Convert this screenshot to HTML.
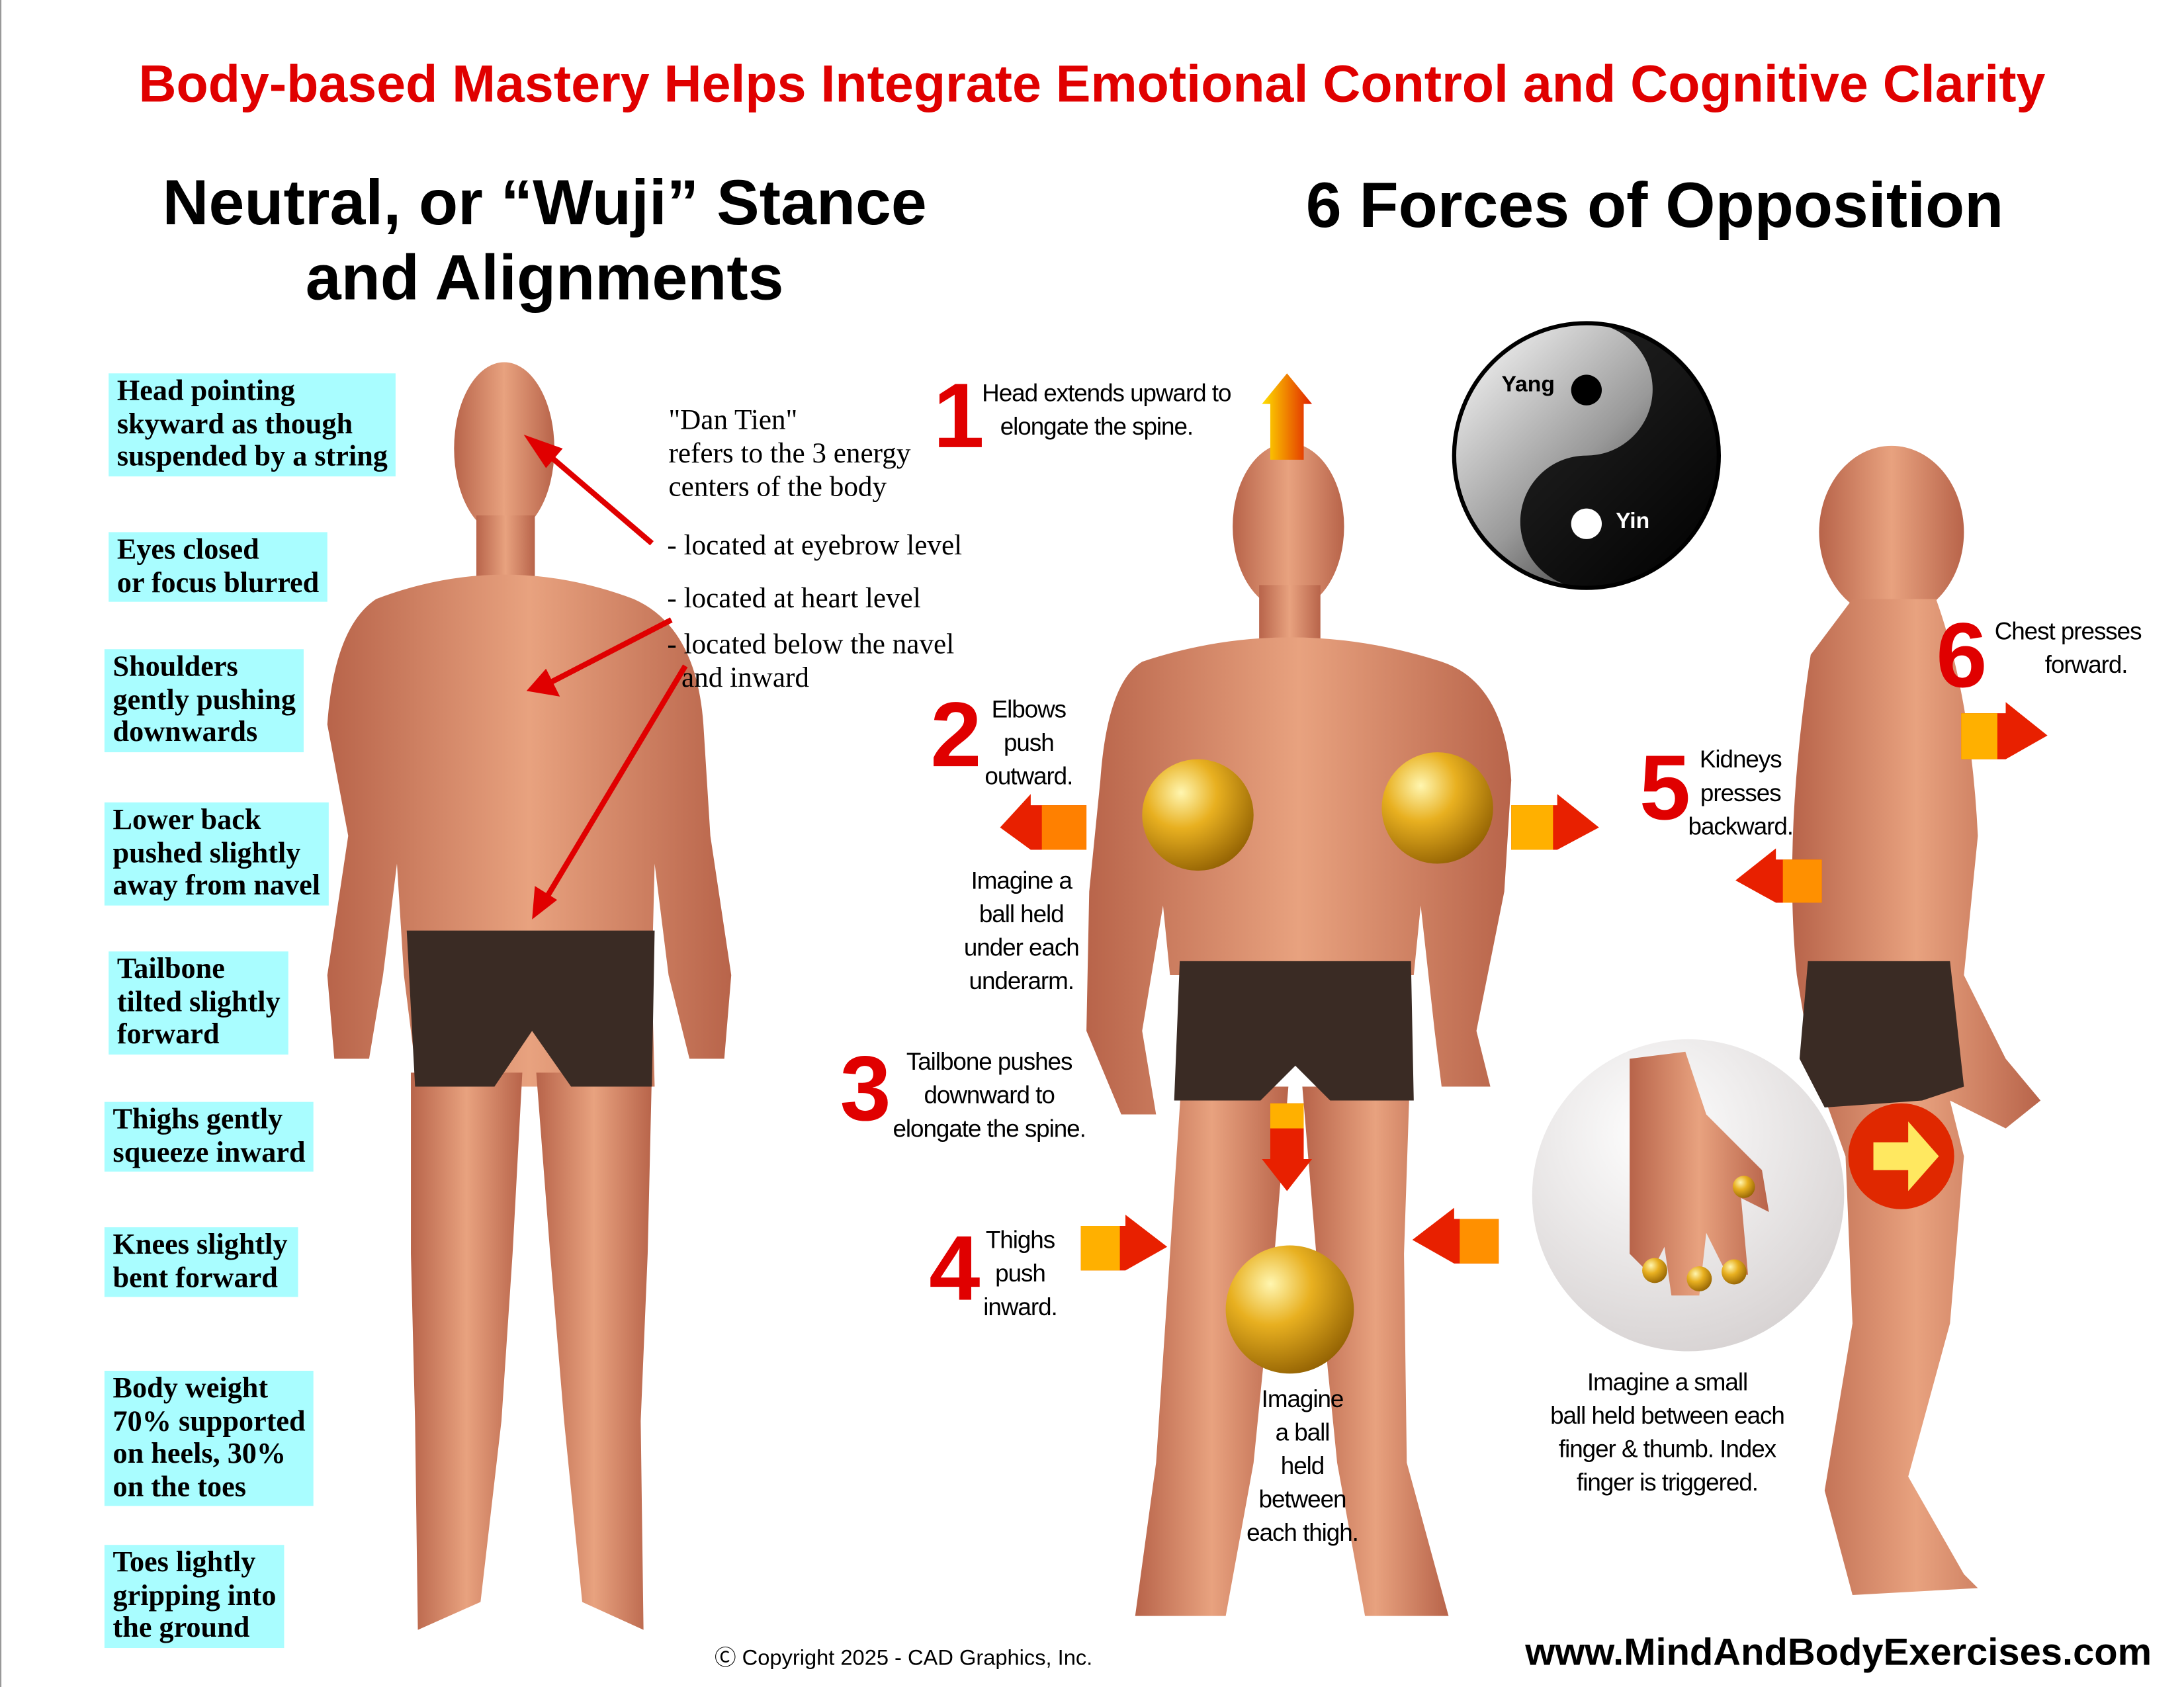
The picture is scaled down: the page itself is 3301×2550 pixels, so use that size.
<!DOCTYPE html>
<html><head><meta charset="utf-8">
<style>
html,body{margin:0;padding:0;background:#fff;}
body{width:3301px;height:2550px;overflow:hidden;position:relative;}
#w{position:absolute;left:0;top:0;width:1568px;height:1211px;transform:scale(2.10523,2.10570);transform-origin:0 0;font-family:"Liberation Sans",sans-serif;}
.a{position:absolute;white-space:nowrap;}
.c{position:absolute;background:#a9fdff;font-family:"Liberation Serif",serif;font-weight:bold;font-size:21px;line-height:23.5px;padding:1px 6px 2px 6px;color:#000;white-space:nowrap;}
.s{position:absolute;font-family:"Liberation Serif",serif;font-size:20.5px;line-height:24px;color:#000;white-space:nowrap;}
.n{position:absolute;color:#e00000;font-weight:bold;font-size:66px;line-height:66px;}
.l{position:absolute;font-size:17.5px;line-height:24px;color:#000;text-align:center;white-space:nowrap;letter-spacing:-0.5px;}
</style></head><body><div id="w">
<div style="position:absolute;left:0;top:0;width:1px;height:1211px;background:#999"></div>
<svg width="1568" height="1211" style="position:absolute;left:0;top:0">
<defs>
<linearGradient id="sk" x1="0" x2="1"><stop offset="0" stop-color="#b8644a"/><stop offset=".5" stop-color="#e8a27f"/><stop offset="1" stop-color="#b8644a"/></linearGradient>
<radialGradient id="ball" cx=".35" cy=".3" r=".8"><stop offset="0" stop-color="#fff6b0"/><stop offset=".4" stop-color="#e8b020"/><stop offset="1" stop-color="#8a5a00"/></radialGradient>
<radialGradient id="ins" cx=".4" cy=".3" r=".8"><stop offset="0" stop-color="#fff"/><stop offset="1" stop-color="#d4cfcf"/></radialGradient>
<linearGradient id="yy" x1="0" y1="0" x2="1" y2="1"><stop offset="0" stop-color="#fff"/><stop offset=".5" stop-color="#999"/><stop offset="1" stop-color="#000"/></linearGradient>
<linearGradient id="ar" x1="0" x2="1"><stop offset="0" stop-color="#ffe000"/><stop offset="1" stop-color="#e02000"/></linearGradient>
</defs>
<g fill="url(#sk)">
<ellipse cx="362" cy="322" rx="36" ry="62"/>
<rect x="342" y="370" width="42" height="50"/>
<path d="M270 430 Q362 395 455 430 Q500 450 505 520 L510 600 L525 700 L520 760 L495 760 L480 700 L470 620 L468 700 L470 780 L300 780 L290 700 L285 620 L275 700 L265 760 L240 760 L235 700 L250 600 L235 520 Q240 450 270 430Z"/>
<path d="M295 770 L375 770 L368 900 L360 1020 L345 1150 L300 1170 L298 1020 L295 900Z"/>
<path d="M385 770 L468 770 L465 900 L460 1020 L462 1170 L418 1150 L405 1020 L395 900Z"/>
</g>
<path d="M292 668 L470 668 L468 780 L410 780 L382 740 L355 780 L298 780Z" fill="#3a2b24"/>
<g fill="url(#sk)">
<ellipse cx="925" cy="378" rx="40" ry="60"/>
<rect x="904" y="420" width="44" height="40"/>
<path d="M820 475 Q925 440 1035 475 Q1080 490 1085 560 L1080 640 L1060 740 L1070 780 L1035 780 L1030 740 L1020 650 L1015 700 L840 700 L835 650 L820 740 L830 800 L805 800 L780 740 L782 640 L790 560 Q795 490 820 475Z"/>
<path d="M848 780 L925 780 L915 900 L900 1050 L880 1160 L815 1160 L830 1050 L840 900Z"/>
<path d="M935 780 L1012 780 L1008 900 L1010 1050 L1040 1160 L980 1160 L960 1050 L945 900Z"/>
</g>
<path d="M847 690 L1013 690 L1015 790 L955 790 L930 765 L905 790 L843 790Z" fill="#3a2b24"/>
<circle cx="860" cy="585" r="40" fill="url(#ball)"/>
<circle cx="1032" cy="580" r="40" fill="url(#ball)"/>
<circle cx="926" cy="940" r="46" fill="url(#ball)"/>
<g fill="url(#sk)">
<ellipse cx="1358" cy="382" rx="52" ry="62"/>
<path d="M1330 430 L1390 430 Q1415 500 1420 600 L1410 700 L1440 760 L1465 790 L1440 810 L1400 790 L1410 830 L1400 950 L1370 1060 L1410 1130 L1420 1140 L1330 1145 L1310 1070 L1330 950 L1325 830 L1300 760 L1290 700 Q1280 600 1300 470Z"/>
</g>
<path d="M1298 690 L1400 690 L1410 780 L1380 790 L1310 795 L1292 760Z" fill="#3a2b24"/>
<circle cx="1365" cy="830" r="38" fill="#e02800"/>
<path d="M1345 820 L1370 820 L1370 805 L1392 830 L1370 855 L1370 840 L1345 840Z" fill="#ffe860"/>
<circle cx="1212" cy="858" r="112" fill="url(#ins)"/>
<path d="M1170 760 L1210 755 L1225 800 L1265 840 L1270 870 L1250 860 L1255 915 L1240 915 L1225 885 L1220 930 L1200 930 L1195 895 L1185 915 L1170 900 Z" fill="url(#sk)"/>
<g fill="url(#ball)"><circle cx="1188" cy="912" r="9"/><circle cx="1220" cy="918" r="9"/><circle cx="1245" cy="913" r="9"/><circle cx="1252" cy="852" r="8"/></g>
<circle cx="1139" cy="327" r="95" fill="url(#yy)" stroke="#000" stroke-width="3"/>
<path d="M1139 232 A95 95 0 0 1 1139 422 A47.5 47.5 0 0 1 1139 327 A47.5 47.5 0 0 0 1139 232Z" fill="#000" opacity=".85"/>
<circle cx="1139" cy="280" r="11" fill="#000"/>
<circle cx="1139" cy="376" r="11" fill="#fff"/>
<g stroke="#e00000" stroke-width="4" fill="#e00000">
<line x1="468" y1="390" x2="392" y2="325"/>
<line x1="482" y1="445" x2="395" y2="490"/>
<line x1="492" y1="478" x2="392" y2="645"/>
</g>
<path d="M376 312 L404 322 L392 336Z" fill="#e00000"/>
<path d="M378 496 L392 480 L402 500Z" fill="#e00000"/>
<path d="M382 660 L384 636 L400 646Z" fill="#e00000"/>
<g>
<path d="M906 290 L924 268 L942 290 L936 290 L936 330 L912 330 L912 290Z" fill="url(#ar)"/>
<path d="M912 792 L936 792 L936 832 L942 832 L924 855 L906 832 L912 832Z" fill="#e82000"/>
<rect x="912" y="792" width="24" height="18" fill="#ffb000"/>
<path d="M780 578 L740 578 L740 570 L718 594 L740 610 L740 610 L780 610Z" fill="#e82000"/>
<rect x="748" y="578" width="32" height="32" fill="#ff8000"/>
<path d="M1085 578 L1118 578 L1118 570 L1148 594 L1118 610 L1085 610Z" fill="#e82000"/>
<rect x="1085" y="578" width="30" height="32" fill="#ffb000"/>
<path d="M1408 512 L1440 512 L1440 504 L1470 528 L1440 545 L1408 545Z" fill="#e82000"/>
<rect x="1408" y="512" width="26" height="33" fill="#ffb000"/>
<path d="M1308 617 L1275 617 L1275 609 L1246 632 L1275 648 L1308 648Z" fill="#e82000"/>
<rect x="1280" y="617" width="28" height="31" fill="#ff9000"/>
<path d="M776 880 L808 880 L808 872 L838 895 L808 912 L776 912Z" fill="#e82000"/>
<rect x="776" y="880" width="28" height="32" fill="#ffb000"/>
<path d="M1076 875 L1044 875 L1044 867 L1014 890 L1044 907 L1076 907Z" fill="#e82000"/>
<rect x="1048" y="875" width="28" height="32" fill="#ff9000"/>
</g>
</svg>
<div class="a" style="left:0;width:1568px;top:39px;text-align:center;color:#e00000;font-weight:bold;font-size:37.5px">Body-based Mastery Helps Integrate Emotional Control and Cognitive Clarity</div>
<div class="a" style="left:56px;width:670px;top:118px;text-align:center;font-weight:bold;font-size:46px;line-height:54px">Neutral, or “Wuji” Stance<br>and Alignments</div>
<div class="a" style="left:898px;width:580px;top:120px;text-align:center;font-weight:bold;font-size:46px">6 Forces of Opposition</div>
<div class="c" style="left:78px;top:268px">Head pointing<br>skyward as though<br>suspended by a string</div>
<div class="c" style="left:78px;top:382px;padding-right:6px">Eyes closed<br>or focus blurred</div>
<div class="c" style="left:75px;top:466px;padding-right:6px">Shoulders<br>gently pushing<br>downwards</div>
<div class="c" style="left:75px;top:576px">Lower back<br>pushed slightly<br>away from navel</div>
<div class="c" style="left:78px;top:683px;padding-right:6px">Tailbone<br>tilted slightly<br>forward</div>
<div class="c" style="left:75px;top:791px">Thighs gently<br>squeeze inward</div>
<div class="c" style="left:75px;top:881px;padding-right:8px">Knees slightly<br>bent forward</div>
<div class="c" style="left:75px;top:984px;padding-right:6px">Body weight<br>70% supported<br>on heels, 30%<br>on the toes</div>
<div class="c" style="left:75px;top:1109px;padding-right:6px">Toes lightly<br>gripping into<br>the ground</div>
<div class="s" style="left:480px;top:290px">"Dan Tien"<br>refers to the 3 energy<br>centers of the body</div>
<div class="s" style="left:479px;top:380px">- located at eyebrow level</div>
<div class="s" style="left:479px;top:418px">- located at heart level</div>
<div class="s" style="left:479px;top:451px">- located below the navel<br>&nbsp;&nbsp;and inward</div>
<div class="n" style="left:670px;top:265px">1</div>
<div class="l" style="left:705px;top:270px;text-align:left">Head extends upward to<br>&nbsp;&nbsp;&nbsp;elongate the spine.</div>
<div class="n" style="left:668px;top:494px">2</div>
<div class="l" style="left:707px;top:497px">Elbows<br>push<br>outward.</div>
<div class="l" style="left:692px;top:620px">Imagine a<br>ball held<br>under each<br>underarm.</div>
<div class="n" style="left:603px;top:748px">3</div>
<div class="l" style="left:641px;top:750px">Tailbone pushes<br>downward to<br>elongate the spine.</div>
<div class="n" style="left:667px;top:877px">4</div>
<div class="l" style="left:706px;top:878px">Thighs<br>push<br>inward.</div>
<div class="l" style="left:895px;top:992px">Imagine<br>a ball<br>held<br>between<br>each thigh.</div>
<div class="n" style="left:1177px;top:532px">5</div>
<div class="l" style="left:1212px;top:533px">Kidneys<br>presses<br>backward.</div>
<div class="n" style="left:1390px;top:437px">6</div>
<div class="l" style="left:1432px;top:441px">Chest presses<br>&nbsp;&nbsp;&nbsp;&nbsp;&nbsp;&nbsp;forward.</div>
<div class="a" style="left:1078px;top:268px;font-weight:bold;font-size:16px;color:#000">Yang</div>
<div class="a" style="left:1160px;top:366px;font-weight:bold;font-size:16px;color:#fff">Yin</div>
<div class="l" style="left:1113px;top:980px">Imagine a small<br>ball held between each<br>finger &amp; thumb. Index<br>finger is triggered.</div>
<div class="a" style="left:513px;top:1178px;font-size:15.5px">Ⓒ Copyright 2025 - CAD Graphics, Inc.</div>
<div class="a" style="left:1095px;top:1170px;font-size:27.5px;font-weight:bold">www.MindAndBodyExercises.com</div>
</div></body></html>
